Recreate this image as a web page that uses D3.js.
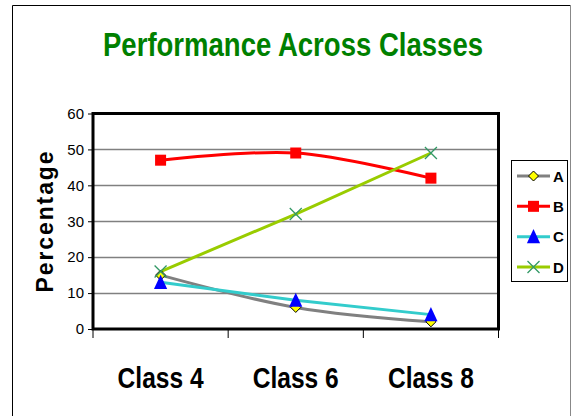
<!DOCTYPE html>
<html>
<head>
<meta charset="utf-8">
<script src="https://cdn.jsdelivr.net/npm/d3@7"></script>
<style>
  html, body { margin: 0; padding: 0; background: #fff; }
  svg { display: block; font-family: "Liberation Sans", Arial, sans-serif; }
</style>
</head>
<body>
<svg id="chart" width="572" height="416"></svg>
<script>
// Chart data
const categories = ["Class 4", "Class 6", "Class 8"];
const seriesNames = ["A", "B", "C", "D"];
const valuesA = [15, 6, 2];
const valuesB = [47, 49, 42];
const valuesC = [13, 8, 4];
const valuesD = [16, 32, 49];
const yTicks = [0, 10, 20, 30, 40, 50, 60];
const titleText = "Performance Across Classes";
const yTitle = "Percentage";

const series = [
  { name: seriesNames[0], values: valuesA, color: "#808080", smooth: true,  marker: "diamond" },
  { name: seriesNames[1], values: valuesB, color: "#FF0000", smooth: true,  marker: "square" },
  { name: seriesNames[2], values: valuesC, color: "#33CCCC", smooth: false, marker: "triangle" },
  { name: seriesNames[3], values: valuesD, color: "#99CC00", smooth: false, marker: "cross" }
];

const svg = d3.select("#chart");

// Outer chart frame
svg.append("line").attr("x1", 12.5).attr("y1", 5.5).attr("x2", 570.5).attr("y2", 5.5)
  .attr("stroke", "#000").attr("stroke-width", 1);
svg.append("line").attr("x1", 12.5).attr("y1", 5.5).attr("x2", 12.5).attr("y2", 416)
  .attr("stroke", "#000").attr("stroke-width", 1);
svg.append("line").attr("x1", 570.5).attr("y1", 5.5).attr("x2", 570.5).attr("y2", 416)
  .attr("stroke", "#888").attr("stroke-width", 1);

// Plot area
const plot = { left: 93, right: 498.5, top: 113.5, bottom: 329 };

const x = d3.scaleBand().domain(categories).range([plot.left, plot.right]).padding(0);
const y = d3.scaleLinear().domain([0, 60]).range([plot.bottom, plot.top]);
const cx = c => x(c) + x.bandwidth() / 2;

// Title
svg.append("text")
  .attr("x", 293).attr("y", 56)
  .attr("text-anchor", "middle")
  .attr("font-size", 34).attr("font-weight", "bold")
  .attr("fill", "#008000")
  .attr("textLength", 380).attr("lengthAdjust", "spacingAndGlyphs")
  .text(titleText);

// Horizontal gridlines
svg.append("g").selectAll("line")
  .data(yTicks.filter(t => t > 0 && t < 60))
  .join("line")
  .attr("x1", plot.left).attr("x2", plot.right)
  .attr("y1", d => Math.round(y(d)) + 0.5).attr("y2", d => Math.round(y(d)) + 0.5)
  .attr("stroke", "#808080").attr("stroke-width", 1.3);

// Y axis ticks and labels
const yAxis = d3.axisLeft(y).tickValues(yTicks).tickSize(5).tickPadding(4);
const gy = svg.append("g").attr("transform", `translate(${plot.left},0)`).call(yAxis);
gy.select(".domain").remove();
gy.selectAll(".tick line").attr("stroke", "#000");
gy.selectAll(".tick text")
  .attr("font-family", "Liberation Sans, Arial, sans-serif")
  .attr("font-size", 15).attr("fill", "#000");

// X axis tick marks at category boundaries
const xBounds = categories.map(c => x(c)).concat([x.range()[1]]);
svg.append("g").selectAll("line")
  .data(xBounds)
  .join("line")
  .attr("x1", d => d).attr("x2", d => d)
  .attr("y1", plot.bottom).attr("y2", plot.bottom + 9)
  .attr("stroke", "#000").attr("stroke-width", 1);

// Category labels
svg.append("g").selectAll("text")
  .data(categories)
  .join("text")
  .attr("x", d => cx(d)).attr("y", 388)
  .attr("text-anchor", "middle")
  .attr("font-size", 29).attr("font-weight", "bold")
  .attr("textLength", 86).attr("lengthAdjust", "spacingAndGlyphs")
  .attr("fill", "#000")
  .text(d => d);

// Y axis title
svg.append("text")
  .attr("transform", "translate(53,221) rotate(-90)")
  .attr("text-anchor", "middle")
  .attr("font-size", 23).attr("font-weight", "bold")
  .attr("textLength", 143).attr("lengthAdjust", "spacingAndGlyphs")
  .attr("letter-spacing", 2)
  .attr("fill", "#000")
  .text(yTitle);

// Plot frame (thick)
svg.append("rect")
  .attr("x", plot.left).attr("y", plot.top)
  .attr("width", plot.right - plot.left).attr("height", plot.bottom - plot.top)
  .attr("fill", "none").attr("stroke", "#000").attr("stroke-width", 3);

// Marker drawing
function drawMarker(g, type, size) {
  if (type === "diamond") {
    const s = size * 0.5;
    g.append("path").attr("d", `M0,${-s}L${s},0L0,${s}L${-s},0Z`)
      .attr("fill", "#FFFF00").attr("stroke", "#000").attr("stroke-width", 1);
  } else if (type === "square") {
    const s = size * 0.5;
    g.append("rect").attr("x", -s).attr("y", -s).attr("width", size).attr("height", size)
      .attr("fill", "#FF0000");
  } else if (type === "triangle") {
    const s = size * 0.55;
    g.append("path").attr("d", `M0,${-s - 1}L${s},${s}L${-s},${s}Z`)
      .attr("fill", "#0000FF");
  } else if (type === "cross") {
    const s = size * 0.5;
    g.append("path").attr("d", `M${-s},${-s}L${s},${s}M${-s},${s}L${s},${-s}`)
      .attr("stroke", "#339966").attr("stroke-width", 1.3).attr("fill", "none");
  }
}

const markerSize = { diamond: 10, square: 11, triangle: 12, cross: 12 };

// Lines
series.forEach(s => {
  const line = d3.line()
    .x((d, i) => cx(categories[i]))
    .y(d => y(d))
    .curve(s.smooth ? d3.curveCatmullRom.alpha(0.5) : d3.curveLinear);
  svg.append("path")
    .datum(s.values)
    .attr("d", line)
    .attr("fill", "none")
    .attr("stroke", s.color)
    .attr("stroke-width", 3)
    .attr("stroke-linejoin", "round");
});

// Markers
series.forEach(s => {
  s.values.forEach((v, i) => {
    const g = svg.append("g").attr("transform", `translate(${cx(categories[i])},${y(v)})`);
    drawMarker(g, s.marker, markerSize[s.marker]);
  });
});

// Legend
const legend = svg.append("g");
legend.append("rect")
  .attr("x", 511.5).attr("y", 160.5).attr("width", 56).attr("height", 121)
  .attr("fill", "#fff").attr("stroke", "#000").attr("stroke-width", 1);
const legendY = d3.scalePoint().domain(seriesNames).range([176, 267]);
series.forEach(s => {
  const ly = legendY(s.name);
  legend.append("line")
    .attr("x1", 517).attr("x2", 550).attr("y1", ly).attr("y2", ly)
    .attr("stroke", s.color).attr("stroke-width", 3);
  const g = legend.append("g").attr("transform", `translate(533.5,${ly})`);
  drawMarker(g, s.marker, markerSize[s.marker]);
  legend.append("text")
    .attr("x", 553).attr("y", ly + 5.5)
    .attr("font-size", 15).attr("font-weight", "bold")
    .attr("fill", "#000")
    .text(s.name);
});
</script>
</body>
</html>
